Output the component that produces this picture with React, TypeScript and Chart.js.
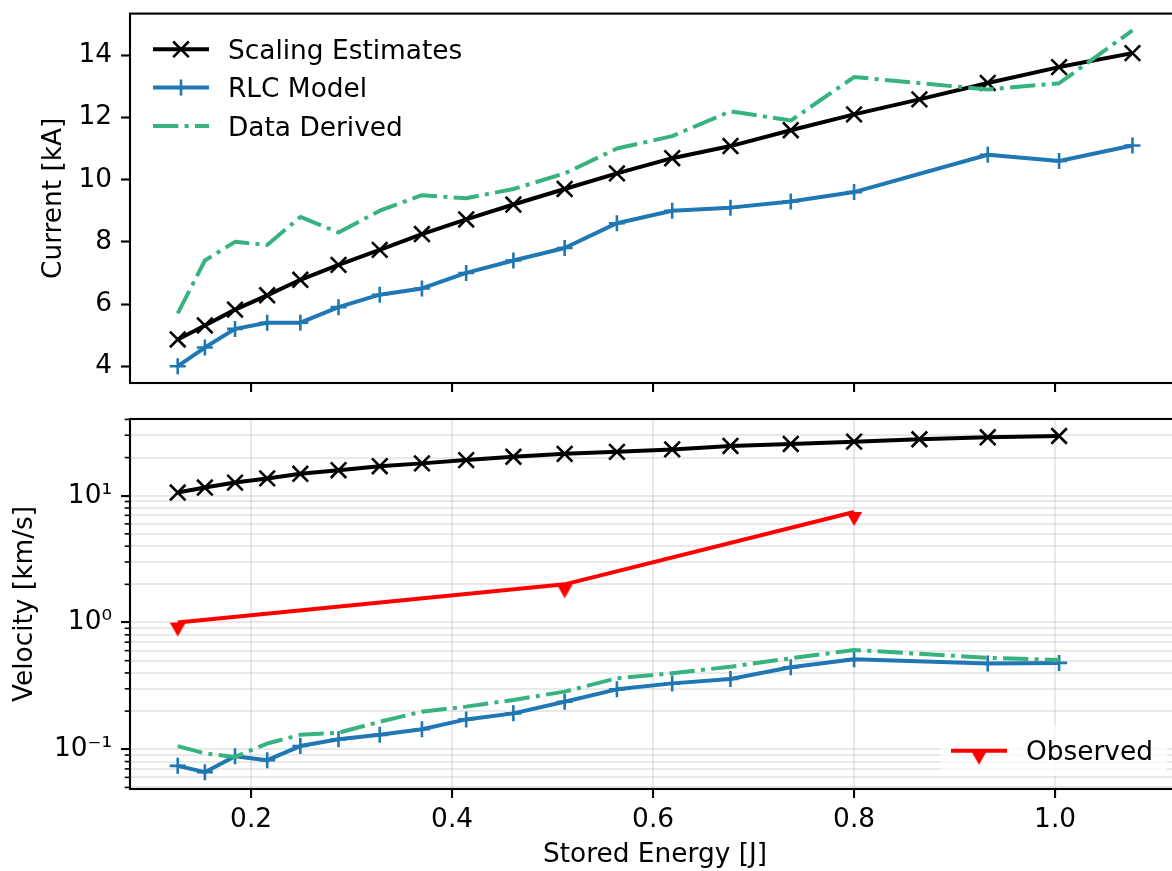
import React, { useEffect, useRef } from 'react';
import { Chart, registerables } from 'chart.js';

Chart.register(...registerables);

// ---------------- data ----------------
const energy = [0.127, 0.154, 0.184, 0.216, 0.249, 0.287, 0.328, 0.370, 0.414, 0.461, 0.512, 0.564, 0.619, 0.677, 0.737, 0.800, 0.865, 0.933, 1.004, 1.077];
const currentScaling = [4.86, 5.31, 5.82, 6.28, 6.78, 7.26, 7.74, 8.25, 8.72, 9.2, 9.7, 10.2, 10.69, 11.08, 11.59, 12.1, 12.58, 13.11, 13.62, 14.07];
const currentRLC = [4.0, 4.6, 5.2, 5.4, 5.4, 5.9, 6.3, 6.5, 7.0, 7.4, 7.8, 8.6, 9.0, 9.1, 9.3, 9.6, null, 10.8, 10.6, 11.1];
const currentData = [5.7, 7.4, 8.0, 7.9, 8.8, 8.3, 9.0, 9.5, 9.4, 9.7, 10.2, 11.0, 11.4, 12.2, 11.9, 13.3, null, 12.9, 13.1, 14.8];
const velocityScaling = [10.6, 11.6, 12.7, 13.7, 14.9, 15.9, 17.1, 18.0, 19.1, 20.3, 21.4, 22.2, 23.2, 24.7, 25.6, 26.7, 27.9, 28.9, 29.6];
const velocityRLC = [0.074, 0.066, 0.088, 0.082, 0.106, 0.12, 0.13, 0.144, 0.172, 0.192, 0.237, 0.297, 0.331, 0.358, 0.443, 0.513, null, 0.475, 0.48];
const velocityData = [0.106, 0.093, 0.087, 0.111, 0.13, 0.135, 0.165, 0.198, 0.217, 0.245, 0.285, 0.363, 0.398, 0.448, 0.522, 0.607, null, 0.527, 0.506];
const observedEnergy = [0.127, 0.512, 0.8];
const observedVelocity = [1.0, 2.0, 7.45];

const xTicks = [0.2, 0.4, 0.6, 0.8, 1.0];
const currentTicks = [4, 6, 8, 10, 12, 14];
const velocityMajorTicks = [0.1, 1, 10];
const velocityMajorLabels = ['10\u207B\u00B9', '10\u2070', '10\u00B9'];
const velocityMinorTicks = [0.05, 0.06, 0.07, 0.08, 0.09, 0.2, 0.3, 0.4, 0.5, 0.6, 0.7, 0.8, 0.9, 2, 3, 4, 5, 6, 7, 8, 9, 20, 30, 40];
const xLimits = [0.0795, 1.1243];
const currentLimits = [3.46, 15.34];
const velocityLimits = [0.0486, 40.3];

const LABEL_SCALING = 'Scaling Estimates';
const LABEL_RLC = 'RLC Model';
const LABEL_DATA = 'Data Derived';
const LABEL_OBS = 'Observed';

// ---------------- styles ----------------
const FAMILY = 'DejaVu Sans';
const FS = 26.4;
const font = { family: FAMILY, size: FS };
const BLACK = '#000000';
const BLUE = '#1f77b4';
const GREEN = '#36b37e';
const RED = '#ff0000';
const GRID = 'rgba(176,176,176,0.28)';
const DASHDOT = [25.3, 6.3, 4, 6.3];
const LW = 4;
const X_R = 11;
const PLUS_R = 8;

function makeCaret(color: string) {
  const c = document.createElement('canvas');
  c.width = 18;
  c.height = 32;
  const g = c.getContext('2d')!;
  g.fillStyle = color;
  g.beginPath();
  g.moveTo(1, 16);
  g.lineTo(17, 16);
  g.lineTo(9, 30);
  g.closePath();
  g.fill();
  return c;
}

function pts(xs: number[], ys: (number | null)[]) {
  return ys.map((y, i) => ({ x: xs[i], y }));
}

function drawMarker(ctx: CanvasRenderingContext2D, kind: string, cx: number, cy: number, color: string, caret?: HTMLCanvasElement) {
  ctx.save();
  ctx.strokeStyle = color;
  ctx.fillStyle = color;
  ctx.lineWidth = 2.6;
  ctx.setLineDash([]);
  if (kind === 'x') {
    const h = X_R * Math.SQRT1_2;
    ctx.beginPath();
    ctx.moveTo(cx - h, cy - h); ctx.lineTo(cx + h, cy + h);
    ctx.moveTo(cx - h, cy + h); ctx.lineTo(cx + h, cy - h);
    ctx.stroke();
  } else if (kind === '+') {
    const h = PLUS_R;
    ctx.beginPath();
    ctx.moveTo(cx - h, cy); ctx.lineTo(cx + h, cy);
    ctx.moveTo(cx, cy - h); ctx.lineTo(cx, cy + h);
    ctx.stroke();
  } else if (kind === 'caret' && caret) {
    ctx.drawImage(caret, cx - caret.width / 2, cy - caret.height / 2);
  }
  ctx.restore();
}

type Entry = { label: string; color: string; dash: number[]; marker: string };

function drawEntry(ctx: CanvasRenderingContext2D, x0: number, y: number, e: Entry, caret?: HTMLCanvasElement) {
  const x1 = x0 + 56;
  ctx.save();
  ctx.strokeStyle = e.color;
  ctx.lineWidth = LW;
  ctx.lineCap = 'butt';
  ctx.setLineDash(e.dash);
  ctx.beginPath();
  ctx.moveTo(x0, y);
  ctx.lineTo(x1, y);
  ctx.stroke();
  ctx.restore();
  drawMarker(ctx, e.marker, (x0 + x1) / 2, y, e.color, caret);
  ctx.save();
  ctx.fillStyle = '#000';
  ctx.font = `${FS}px "${FAMILY}"`;
  ctx.textBaseline = 'alphabetic';
  ctx.textAlign = 'left';
  ctx.fillText(e.label, x1 + 19, y + 9.6);
  ctx.restore();
}

function drawSpines(chart: any) {
  const { ctx, chartArea: a } = chart;
  ctx.save();
  ctx.strokeStyle = '#000';
  ctx.lineWidth = 2.1;
  ctx.setLineDash([]);
  ctx.strokeRect(a.left, a.top, a.right - a.left, a.bottom - a.top);
  ctx.restore();
}

const isMajorV = (v: number) => velocityMajorTicks.some((m) => Math.abs(v - m) < m * 1e-6);

export default function App() {
  const topRef = useRef<HTMLCanvasElement>(null);
  const botRef = useRef<HTMLCanvasElement>(null);

  useEffect(() => {
    const caret = makeCaret(RED);

    const topLegend: Entry[] = [
      { label: LABEL_SCALING, color: BLACK, dash: [], marker: 'x' },
      { label: LABEL_RLC, color: BLUE, dash: [], marker: '+' },
      { label: LABEL_DATA, color: GREEN, dash: DASHDOT, marker: 'none' },
    ];

    const topPlugin = {
      id: 'topDeco',
      afterDraw(chart: any) {
        drawSpines(chart);
        const a = chart.chartArea;
        topLegend.forEach((e, i) => drawEntry(chart.ctx, a.left + 23, a.top + 35.7 + i * 38.3, e));
      },
    };

    const botPlugin = {
      id: 'botDeco',
      afterDraw(chart: any) {
        const { ctx, chartArea: a } = chart;
        const ys = chart.scales.y;
        ctx.save();
        ctx.strokeStyle = '#000';
        ctx.lineWidth = 1.6;
        velocityMinorTicks.forEach((v) => {
          const py = ys.getPixelForValue(v);
          ctx.beginPath();
          ctx.moveTo(a.left - 5.3, py);
          ctx.lineTo(a.left, py);
          ctx.stroke();
        });
        ctx.restore();
        drawSpines(chart);
        // legend box
        ctx.save();
        ctx.fillStyle = 'rgba(255,255,255,0.8)';
        ctx.fillRect(a.right - 239.6, a.bottom - 63.4, 226.4, 50.2);
        ctx.restore();
        drawEntry(ctx, a.right - 229, a.bottom - 38.3, { label: LABEL_OBS, color: RED, dash: [], marker: 'caret' }, caret);
      },
    };

    const baseX = (showLabels: boolean, h: number) => ({
      type: 'linear',
      min: xLimits[0],
      max: xLimits[1],
      afterBuildTicks: (s: any) => { s.ticks = xTicks.map((v) => ({ value: v })); },
      afterFit: (s: any) => { s.height = h; s.paddingLeft = 0; s.paddingRight = 0; },
      ticks: {
        display: showLabels,
        autoSkip: false,
        maxRotation: 0,
        font,
        color: '#000',
        padding: 6,
        callback: (v: any) => Number(v).toFixed(1),
      },
      grid: {
        drawOnChartArea: showLabels,
        color: GRID,
        lineWidth: 2.1,
        drawTicks: true,
        tickLength: 9,
        tickWidth: 2.1,
        tickColor: '#000',
      },
      border: { display: false },
    });

    const topChart = new Chart(topRef.current as HTMLCanvasElement, {
      type: 'line',
      data: {
        datasets: [
          {
            label: LABEL_SCALING,
            data: pts(energy, currentScaling),
            borderColor: BLACK, backgroundColor: BLACK, borderWidth: LW,
            pointStyle: 'crossRot', pointRadius: X_R, pointBorderWidth: 2.6, pointBorderColor: BLACK,
            order: 3,
          },
          {
            label: LABEL_RLC,
            data: pts(energy, currentRLC),
            borderColor: BLUE, backgroundColor: BLUE, borderWidth: LW,
            pointStyle: 'cross', pointRadius: PLUS_R, pointBorderWidth: 2.6, pointBorderColor: BLUE,
            spanGaps: true, order: 2,
          },
          {
            label: LABEL_DATA,
            data: pts(energy, currentData),
            borderColor: GREEN, backgroundColor: GREEN, borderWidth: LW,
            borderDash: DASHDOT, borderCapStyle: 'butt',
            pointRadius: 0, spanGaps: true, order: 1,
          },
        ] as any,
      },
      options: {
        responsive: false,
        animation: false,
        events: [],
        layout: { padding: { left: 0, top: 12, right: 20, bottom: 0 } },
        elements: { line: { borderJoinStyle: 'round', tension: 0 } },
        plugins: { legend: { display: false }, tooltip: { enabled: false } },
        scales: {
          x: baseX(false, 17) as any,
          y: {
            type: 'linear',
            min: currentLimits[0],
            max: currentLimits[1],
            afterBuildTicks: (s: any) => { s.ticks = currentTicks.map((v) => ({ value: v })); },
            afterFit: (s: any) => { s.width = 130; s.paddingTop = 0; s.paddingBottom = 0; },
            ticks: { font, color: '#000', padding: 9, autoSkip: false, callback: (v: any) => String(v) },
            grid: { drawOnChartArea: false, drawTicks: true, tickLength: 9, tickWidth: 2.1, tickColor: '#000' },
            border: { display: false },
            title: { display: true, text: 'Current [kA]', font, color: '#000', padding: { top: 38, bottom: 0 } },
          } as any,
        },
      } as any,
      plugins: [topPlugin],
    });

    const botChart = new Chart(botRef.current as HTMLCanvasElement, {
      type: 'line',
      data: {
        datasets: [
          {
            label: LABEL_SCALING,
            data: pts(energy, velocityScaling),
            borderColor: BLACK, backgroundColor: BLACK, borderWidth: LW,
            pointStyle: 'crossRot', pointRadius: X_R, pointBorderWidth: 2.6, pointBorderColor: BLACK,
            order: 4,
          },
          {
            label: LABEL_RLC,
            data: pts(energy, velocityRLC),
            borderColor: BLUE, backgroundColor: BLUE, borderWidth: LW,
            pointStyle: 'cross', pointRadius: PLUS_R, pointBorderWidth: 2.6, pointBorderColor: BLUE,
            spanGaps: true, order: 3,
          },
          {
            label: LABEL_DATA,
            data: pts(energy, velocityData),
            borderColor: GREEN, backgroundColor: GREEN, borderWidth: LW,
            borderDash: DASHDOT, borderCapStyle: 'butt',
            pointRadius: 0, spanGaps: true, order: 2,
          },
          {
            label: LABEL_OBS,
            data: pts(observedEnergy, observedVelocity),
            borderColor: RED, backgroundColor: RED, borderWidth: LW,
            pointStyle: caret, pointRadius: 9,
            order: 1,
          },
        ] as any,
      },
      options: {
        responsive: false,
        animation: false,
        events: [],
        layout: { padding: { left: 0, top: 19, right: 20, bottom: 0 } },
        elements: { line: { borderJoinStyle: 'round', tension: 0 } },
        plugins: { legend: { display: false }, tooltip: { enabled: false } },
        scales: {
          x: {
            ...(baseX(true, 82) as any),
            title: { display: true, text: 'Stored Energy [J]', font, color: '#000', padding: { top: 0, bottom: 0 } },
          },
          y: {
            type: 'logarithmic',
            min: velocityLimits[0],
            max: velocityLimits[1],
            afterBuildTicks: (s: any) => {
              s.ticks = [...velocityMinorTicks, ...velocityMajorTicks]
                .sort((a, b) => a - b)
                .map((v) => ({ value: v, major: isMajorV(v) }));
            },
            afterFit: (s: any) => { s.width = 130; s.paddingTop = 0; s.paddingBottom = 0; },
            ticks: {
              font, color: '#000', padding: 9, autoSkip: false,
              callback: (v: any) => {
                const i = velocityMajorTicks.findIndex((m) => Math.abs(Number(v) - m) < m * 1e-6);
                return i >= 0 ? velocityMajorLabels[i] : '';
              },
            },
            grid: {
              drawOnChartArea: true,
              color: GRID,
              lineWidth: 2.1,
              drawTicks: true,
              tickLength: 9,
              tickWidth: 2.1,
              tickColor: (c: any) => (c.tick && isMajorV(c.tick.value) ? '#000' : 'rgba(0,0,0,0)'),
            },
            border: { display: false },
            title: { display: true, text: 'Velocity [km/s]', font, color: '#000', padding: { top: 9, bottom: 0 } },
          } as any,
        },
      } as any,
      plugins: [botPlugin],
    });

    return () => {
      topChart.destroy();
      botChart.destroy();
    };
  }, []);

  return (
    <div
      style={{
        position: 'absolute',
        left: 0,
        top: 0,
        width: 1172,
        height: 871,
        overflow: 'hidden',
        background: '#ffffff',
      }}
    >
      <canvas ref={topRef} width={1200} height={400} style={{ position: 'absolute', left: 0, top: 0 }} />
      <canvas ref={botRef} width={1200} height={471} style={{ position: 'absolute', left: 0, top: 400 }} />
    </div>
  );
}
